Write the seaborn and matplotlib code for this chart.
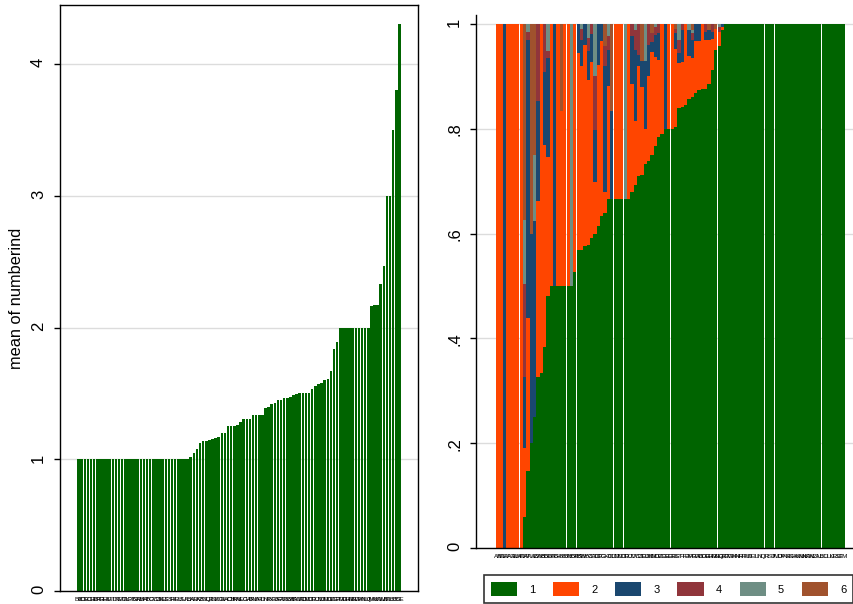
import matplotlib
matplotlib.use("Agg")
import matplotlib.pyplot as plt
from matplotlib.patches import Patch
import numpy as np
import seaborn as sns

plt.rcParams['font.family'] = ['Liberation Sans', 'DejaVu Sans']

# ---------------- data ----------------
left_labels = ("BE BO CG EC CH GB ER FR GE HU IE IT LT KE MT CL AG PT BI GR AM BH AT BG CY CZ "
               "DK EE LS ES FI HR LU IS LI AL BA KR LK AZ BY GQ LR JO KZ KG CI KH AO CN JP KM "
               "AE LC GA HT BN LA BR ID IN IR BD FJ BF GT AR BZ BB AF BW CA CD CM CO CR CU CV "
               "DJ DM DO DZ EG ET FM GD GH GM GN GW GY HN IL IQ JM KI KN KW LB AD AU BJ BS DE").split()

left_values = ([1.0] * 36 +
               [1.02, 1.05, 1.075, 1.125, 1.14, 1.14, 1.146, 1.155, 1.16, 1.17,
                1.20, 1.20, 1.25, 1.25, 1.25, 1.26, 1.28, 1.305, 1.305, 1.305,
                1.336, 1.336, 1.336, 1.336, 1.39, 1.40, 1.417, 1.425, 1.45, 1.45,
                1.467, 1.467,
                1.475, 1.488, 1.495, 1.5, 1.5, 1.5, 1.5, 1.53, 1.556, 1.571,
                1.58, 1.60, 1.61, 1.67, 1.84, 1.887,
                2.0, 2.0, 2.0, 2.0, 2.0, 2.0, 2.0, 2.0, 2.0, 2.0,
                2.16, 2.17, 2.17, 2.33, 2.47, 3.0, 3.0, 3.5, 3.8, 4.3])

right_labels = ("AB AD AE AF AG AL AM AO AR AT AU AZ BA BB BD BE BF BG BH BI BJ BN BO BR BS BW "
                "BY BZ CA CD CF CG CH CI CL CM CN CO CR CU CV CY CZ DE DJ DK DM DO DZ EC EE EG "
                "ER ES ET FI FJ FM FR GA GB GD GE GH GM GN GQ GR GT GW GY HN HR HT HU ID IE IL "
                "IN IQ IR IS IT JM JO JP KE KG KH KI KM KN KR KW KZ LA LB LC LI LK LR LS LT EM").split()

share_1 = [0, 0, 0, 0, 0, 0, 0, 0, .060, .146,
           .200, .250, .327, .333, .384, .480, .5, .5, .5, .5,
           .5, .5, .5, .527, .569, .569, .576, .578, .591, .599,
           .615, .634, .640, .665, .665, .665, .665, .665, .665, .665,
           .680, .693, .709, .712, .733, .739, .749, .767, .785, .790,
           .799, .799, .799, .803, .840, .842, .845, .856, .860, .868,
           .874, .875, .876, .885, .912, .950, .957, .989] + [1.0] * 36
share_2 = [1, 1, 0, 1, 1, 1, 1, 1, .130, .292,
           0, 0, .336, .667, .384, .266, .5, 0, .5, .333,
           .5, .5, 0, .473, .376, .351, .384, .315, .337, .100,
           .307, .333, .040, .217, 0, .335, .335, .335, 0, .335,
           .205, .122, .211, .168, .067, .161, .197, .170, .147, .210,
           0, .201, .201, .149, .085, .086, .155, .082, .075, .100,
           .093, .125, .093, .084, .060, .040, .028, .006] + [0.0] * 36
share_3 = [0, 0, 1, 0, 0, 0, 0, 0, .137, .532,
           .400, .373, .189, 0, .140, .189, 0, .5, 0, 0,
           0, 0, 0, 0, .055, .050, .040, .055, .052, .099,
           .078, .033, .239, .068, .168, 0, 0, 0, 0, 0,
           .091, .135, .020, .050, .130, .060, .020, .042, .050, 0,
           .201, 0, 0, .030, .020, .060, 0, .050, .035, .032,
           .033, 0, .016, .020, .013, 0, 0, .005] + [0.0] * 36
share_4 = [0, 0, 0, 0, 0, 0, 0, 0, .177, .015,
           0, 0, .148, 0, .092, .013, 0, 0, 0, 0,
           0, 0, 0, 0, 0, .020, 0, .025, .020, .102,
           0, 0, .038, .026, 0, 0, 0, 0, 0, 0,
           .024, .038, .060, 0, 0, .040, .016, .016, .018, 0,
           0, 0, 0, .008, .025, .012, 0, 0, .012, 0,
           0, 0, .015, 0, .015, 0, .010, 0] + [0.0] * 36
share_5 = [0, 0, 0, 0, 0, 0, 0, 0, .121, .015,
           0, .127, 0, 0, 0, .052, 0, 0, 0, 0,
           0, 0, .5, 0, 0, .010, 0, .027, 0, .100,
           0, 0, 0, .024, 0, 0, 0, 0, .335, 0,
           0, .012, 0, 0, .070, 0, 0, .005, 0, 0,
           0, 0, 0, 0, .030, 0, 0, .012, .006, 0,
           0, 0, 0, 0, 0, 0, .005, 0] + [0.0] * 36
share_6 = [0, 0, 0, 0, 0, 0, 0, 0, .375, 0,
           .400, .250, 0, 0, 0, 0, 0, 0, 0, .167,
           0, 0, 0, 0, 0, 0, 0, 0, 0, 0,
           0, 0, .043, 0, .167, 0, 0, 0, 0, 0,
           0, 0, 0, .070, 0, 0, .018, 0, 0, 0,
           0, 0, 0, .010, 0, 0, 0, 0, .012, 0,
           0, 0, 0, .011, 0, .010, 0, 0] + [0.0] * 36

legend_labels = ["1", "2", "3", "4", "5", "6"]
colors = ["#006400", "#ff4500", "#1a476f", "#90353b", "#6e8e84", "#a0522d"]

# ---------------- figure ----------------
W, H = 854, 604
fig = plt.figure(figsize=(W / 100, H / 100), dpi=100)

# left panel
ax1 = fig.add_axes([60 / W, 1 - 591 / H, 358 / W, 586 / H])
sns.barplot(x=left_labels, y=left_values, order=left_labels, color=colors[0],
            saturation=1, width=0.82, errorbar=None, linewidth=0, ax=ax1)
ax1.set_xlim(-5.96, 108.96)
ax1.set_ylim(0, 4.448)
ax1.set_yticks([0, 1, 2, 3, 4])
ax1.set_yticklabels(["0", "1", "2", "3", "4"])
ax1.yaxis.grid(True, color="#dcdcdc", lw=1)
ax1.set_axisbelow(True)
ax1.set_ylabel("mean of numberind", fontsize=11.8, labelpad=5)
ax1.set_xlabel("")
ax1.tick_params(axis="y", labelrotation=90, labelsize=12, length=4, width=1, pad=6)
ax1.tick_params(axis="x", length=0, labelsize=4.5, pad=4)
for s in ax1.spines.values():
    s.set_linewidth(1)
    s.set_color("black")

# right panel
ax2 = fig.add_axes([476 / W, 1 - 548 / H, 378 / W, 533 / H])
shares = np.array([share_1, share_2, share_3, share_4, share_5, share_6], dtype=float)
shares = shares / shares.sum(axis=0)
tops = np.cumsum(shares, axis=0)
for k in range(5, -1, -1):
    sns.barplot(x=right_labels, y=tops[k], order=right_labels, color=colors[k],
                saturation=1, width=0.97, errorbar=None, linewidth=0, ax=ax2)
ax2.set_xlim(-6.46, 106.18)
ax2.set_ylim(0, 1.017)
ax2.set_yticks([0, .2, .4, .6, .8, 1])
ax2.set_yticklabels(["0", ".2", ".4", ".6", ".8", "1"])
ax2.yaxis.grid(True, color="#dcdcdc", lw=1)
ax2.set_axisbelow(True)
ax2.set_ylabel("")
ax2.set_xlabel("")
ax2.tick_params(axis="y", labelrotation=90, labelsize=12, length=4, width=1, pad=6)
ax2.tick_params(axis="x", length=0, labelsize=4.5, pad=4)
ax2.spines["top"].set_visible(False)
ax2.spines["right"].set_visible(False)
for s in ("left", "bottom"):
    ax2.spines[s].set_linewidth(1)
    ax2.spines[s].set_color("black")

handles = [Patch(facecolor=c, edgecolor="none") for c in colors]
leg = fig.legend(handles, legend_labels, loc="lower left",
                 bbox_to_anchor=(484 / W, 1 / H, 369 / W, 32 / H), mode="expand",
                 ncol=6, fontsize=8, handlelength=2.35, handleheight=1.6,
                 handletextpad=1.1, borderaxespad=0, borderpad=0.6,
                 frameon=True, fancybox=False, edgecolor="black")
leg.get_frame().set_linewidth(1.2)

fig.savefig("out.png", dpi=100)
